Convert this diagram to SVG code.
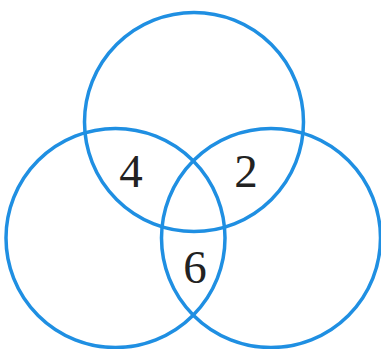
<svg xmlns="http://www.w3.org/2000/svg" width="381" height="349" viewBox="0 0 381 349">
<style>
.c{fill:none;stroke:#1f8fe2;stroke-width:3.5}
.t{font-family:"Liberation Serif","Times New Roman",serif;font-size:47px;fill:#222;text-anchor:middle}
</style>
<rect width="381" height="349" fill="#fff"/>
<g id="circle-top"><circle class="c" cx="194" cy="122" r="109.5"/></g>
<g id="circle-left"><circle class="c" cx="115.5" cy="238" r="109.5"/></g>
<g id="circle-right"><circle class="c" cx="271" cy="238" r="109.5"/></g>
<g id="label-4"><text class="t" x="131" y="187">4</text></g>
<g id="label-2"><text class="t" x="246" y="187">2</text></g>
<g id="label-6"><text class="t" x="195" y="283">6</text></g>
</svg>
